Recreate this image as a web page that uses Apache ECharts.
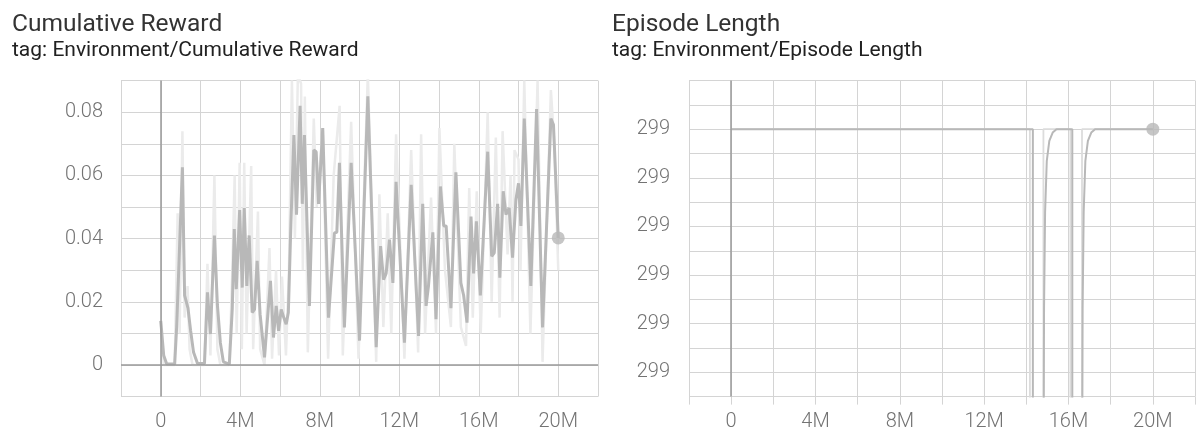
<!DOCTYPE html>
<html>
<head>
<meta charset="utf-8">
<script src="https://cdn.jsdelivr.net/npm/echarts@6/dist/echarts.min.js"></script>
<style>
html,body{margin:0;padding:0;background:#fff;}
#c{width:1198px;height:434px;}
</style>
</head>
<body>
<div id="c"></div>
<script>
// ---------- DATA (steps in millions) ----------
const rewardSteps = [0,0.15,0.3,0.7,0.8,0.95,1.09,1.2,1.37,1.5,1.65,1.85,2.2,2.35,2.5,2.7,2.85,3.0,3.15,3.45,3.6,3.7,3.8,3.97,4.1,4.2,4.33,4.45,4.6,4.72,4.85,5.0,5.22,5.52,5.67,5.81,5.93,6.06,6.19,6.31,6.42,6.55,6.7,6.83,7.01,7.12,7.23,7.48,7.7,7.82,7.94,8.15,8.44,8.74,8.86,8.99,9.24,9.58,10.0,10.42,10.84,11.06,11.21,11.34,11.51,11.68,11.84,12.26,12.6,12.97,13.18,13.35,13.47,13.69,13.85,14.07,14.24,14.36,14.6,14.85,15.1,15.24,15.41,15.61,15.74,15.88,16.08,16.45,16.65,16.78,16.95,17.06,17.23,17.37,17.53,17.7,17.87,18.0,18.12,18.29,18.62,18.91,19.21,19.63,19.76,20.0];
const rewardSmoothed = [0.014,0.003,0.0003,0.0003,0.012,0.038,0.0626,0.022,0.018,0.011,0.004,0.0005,0.0005,0.023,0.0098,0.041,0.019,0.007,0.001,0.0003,0.018,0.043,0.024,0.049,0.0245,0.0497,0.025,0.041,0.0166,0.0176,0.033,0.016,0.0024,0.0266,0.0087,0.0187,0.0108,0.0176,0.015,0.0129,0.0166,0.045,0.0728,0.0476,0.082,0.051,0.0728,0.0187,0.068,0.0675,0.051,0.075,0.015,0.0418,0.042,0.064,0.0119,0.064,0.0077,0.085,0.0056,0.0376,0.027,0.029,0.0397,0.026,0.058,0.0071,0.057,0.0092,0.051,0.0187,0.025,0.042,0.0145,0.0565,0.044,0.044,0.018,0.061,0.026,0.022,0.0134,0.047,0.029,0.0455,0.022,0.0675,0.0344,0.0355,0.051,0.0276,0.055,0.0476,0.0497,0.034,0.0523,0.0575,0.044,0.078,0.025,0.081,0.0119,0.078,0.076,0.0402];

const rewardRawSteps = [0,0.15,0.7,0.85,0.95,1.09,1.2,1.35,1.45,1.6,2.2,2.35,2.5,2.7,2.85,3.0,3.45,3.6,3.72,3.82,3.97,4.08,4.2,4.32,4.55,4.65,4.89,5.0,5.22,5.47,5.6,5.8,5.95,6.1,6.3,6.45,6.6,6.75,6.9,7.06,7.15,7.25,7.4,7.7,7.85,8.15,8.42,8.7,9.0,9.16,9.58,9.95,10.42,10.84,11.0,11.2,11.42,11.6,11.84,12.26,12.6,12.95,13.1,13.3,13.6,13.85,14.02,14.3,14.6,14.77,15.1,15.36,15.52,15.7,15.9,16.1,16.45,16.65,16.86,17.05,17.2,17.45,17.6,17.7,17.8,18.0,18.1,18.29,18.6,18.96,19.21,19.63,19.8,20.0];
const rewardRaw = [0.014,0,0,0.048,0.01,0.074,0.015,0.025,0.005,0,0,0.032,0.003,0.06,0.005,0,0,0.03,0.06,0.01,0.064,0.005,0.064,0.01,0.063,0.005,0.0486,0.005,0,0.037,0.002,0.03,0.003,0.028,0.003,0.03,0.09,0.04,0.092,0.089,0.03,0.085,0.004,0.078,0.05,0.075,0.002,0.06,0.082,0.003,0.077,0.002,0.092,0.001,0.054,0.012,0.048,0.01,0.073,0.002,0.068,0.004,0.073,0.01,0.053,0.01,0.075,0.03,0.012,0.07,0.012,0.006,0.056,0.015,0.055,0.01,0.08,0.02,0.072,0.015,0.074,0.035,0.06,0.02,0.068,0.065,0.03,0.09,0.01,0.09,0.001,0.087,0.07,0.03];

const lengthSteps = [0,14.31,14.33,14.80,14.84,14.89,14.97,15.09,15.25,15.43,16.18,16.2,16.63,16.67,16.72,16.8,16.92,17.08,17.26,20.0];
const lengthSmoothed = [299,299,298.95,298.999,298.99963,298.99983,298.999935,298.999976,298.999993,299,299,298.95,298.999,298.99963,298.99983,298.999935,298.999976,298.999993,299,299];
const lengthRawSteps = [0,14.17,14.19,14.79,14.81,16.09,16.11,16.62,16.64,20.0];
const lengthRaw = [299,299,298.9,298.9,299,299,298.9,298.9,299,299];

const xTickLabels = [0,4,8,12,16,20];
const rewardTickLabels = [0,0.02,0.04,0.06,0.08];

// ---------- STYLE ----------
const GRID = '#d4d4d4', ZERO = '#9a9a9a', LINE = '#b8b8b8', RAW = '#ebebeb', LABEL = '#737373';
const zip = (a, b) => a.map((v, i) => [v, b[i]]);

const xAxisBase = (gi) => ({
  type: 'value', gridIndex: gi, min: -2, max: 22, interval: 2,
  axisLine: {show: false},
  axisTick: {show: true, length: 8, lineStyle: {color: GRID, width: 1}},
  splitLine: {show: true, lineStyle: {color: GRID, width: 1}},
  axisLabel: {
    color: LABEL, fontSize: 20, fontFamily: 'Roboto', fontWeight: 300, margin: 15,
    showMinLabel: true, showMaxLabel: true,
    formatter: v => { const k = Math.round(v); return xTickLabels.includes(k) ? (k === 0 ? '0' : k + 'M') : ''; }
  }
});

const chart = echarts.init(document.getElementById('c'), null, {renderer: 'canvas'});
chart.setOption({
  animation: false,
  backgroundColor: '#fff',
  graphic: [
    {type: 'text', left: 12, top: 12, style: {text: 'Cumulative Reward', font: '400 24.5px Roboto', fill: '#333'}},
    {type: 'text', left: 12, top: 40, style: {text: 'tag: Environment/Cumulative Reward', font: '400 21px Roboto', fill: '#212121'}},
    {type: 'text', left: 612, top: 12, style: {text: 'Episode Length', font: '400 24.5px Roboto', fill: '#333'}},
    {type: 'text', left: 612, top: 40, style: {text: 'tag: Environment/Episode Length', font: '400 21px Roboto', fill: '#212121'}}
  ],
  grid: [
    {left: 121, top: 80.6, width: 477, height: 316},
    {left: 689, top: 80.6, width: 515, height: 316}
  ],
  xAxis: [xAxisBase(0), xAxisBase(1)],
  yAxis: [
    {
      type: 'value', gridIndex: 0, min: -0.01, max: 0.09, interval: 0.01,
      axisLine: {show: false},
      axisTick: {show: true, length: 8, lineStyle: {color: GRID}},
      splitLine: {show: true, lineStyle: {color: GRID, width: 1}},
      axisLabel: {
        color: LABEL, fontSize: 20, fontFamily: 'Roboto', fontWeight: 300, margin: 18,
        formatter: v => { const k = Math.round(v * 100) / 100; return rewardTickLabels.some(t => Math.abs(t - k) < 1e-9) ? (k === 0 ? '0' : k.toFixed(2)) : ''; }
      }
    },
    {
      type: 'value', gridIndex: 1, min: 298.99945, max: 299.0001, interval: 0.00005,
      axisLine: {show: false},
      axisTick: {show: true, length: 8, lineStyle: {color: GRID}},
      splitLine: {show: true, lineStyle: {color: GRID, width: 1}},
      axisLabel: {
        color: LABEL, fontSize: 20, fontFamily: 'Roboto', fontWeight: 300, margin: 19,
        formatter: v => { const k = Math.round((v - 299) / 0.00005); return (k <= 0 && k >= -10 && k % 2 === 0) ? String(Math.round(v)) : ''; }
      }
    }
  ],
  series: [
    {
      type: 'line', xAxisIndex: 0, yAxisIndex: 0, data: zip(rewardRawSteps, rewardRaw),
      showSymbol: false, lineStyle: {color: RAW, width: 2.5}, clip: true, z: 2,
      markLine: {silent: true, symbol: 'none', label: {show: false},
        lineStyle: {color: ZERO, width: 1.5, type: 'solid'},
        data: [{xAxis: 0}, {yAxis: 0}]}
    },
    {
      type: 'line', xAxisIndex: 0, yAxisIndex: 0, data: zip(rewardSteps, rewardSmoothed),
      showSymbol: false, lineStyle: {color: LINE, width: 3}, clip: true, z: 3
    },
    {
      type: 'scatter', xAxisIndex: 0, yAxisIndex: 0,
      data: [[rewardSteps[rewardSteps.length - 1], rewardSmoothed[rewardSmoothed.length - 1]]],
      symbolSize: 13, itemStyle: {color: LINE}, z: 4
    },
    {
      type: 'line', xAxisIndex: 1, yAxisIndex: 1, data: zip(lengthRawSteps, lengthRaw),
      showSymbol: false, lineStyle: {color: '#dcdcdc', width: 1.8}, clip: true, z: 2,
      markLine: {silent: true, symbol: 'none', label: {show: false},
        lineStyle: {color: ZERO, width: 1.5, type: 'solid'},
        data: [{xAxis: 0}]}
    },
    {
      type: 'line', xAxisIndex: 1, yAxisIndex: 1, data: zip(lengthSteps, lengthSmoothed),
      showSymbol: false, lineStyle: {color: LINE, width: 2}, clip: true, z: 3
    },
    {
      type: 'scatter', xAxisIndex: 1, yAxisIndex: 1,
      data: [[lengthSteps[lengthSteps.length - 1], lengthSmoothed[lengthSmoothed.length - 1]]],
      symbolSize: 13, itemStyle: {color: LINE}, z: 4
    }
  ]
});
</script>
</body>
</html>
